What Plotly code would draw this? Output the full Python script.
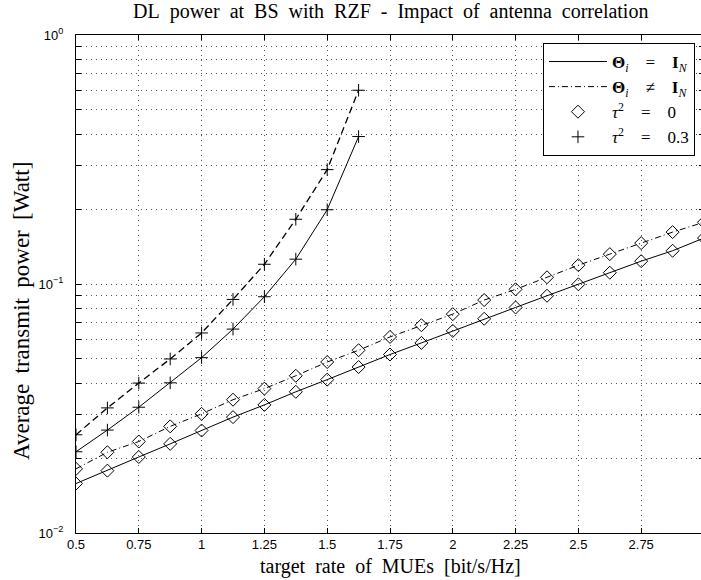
import plotly.graph_objects as go

# ---- data ----
x_plus = [0.5, 0.625, 0.75, 0.875, 1.0, 1.125, 1.25, 1.375, 1.5, 1.625]
p_id_tau03 = [0.0212, 0.0259, 0.0320, 0.0401, 0.0506, 0.0659, 0.0889, 0.1258, 0.1987, 0.391]
p_corr_tau03 = [0.0248, 0.0318, 0.0400, 0.0500, 0.0636, 0.0867, 0.1200, 0.1820, 0.2880, 0.600]

x_diam = [0.5, 0.625, 0.75, 0.875, 1.0, 1.125, 1.25, 1.375, 1.5, 1.625,
          1.75, 1.875, 2.0, 2.125, 2.25, 2.375, 2.5, 2.625, 2.75, 2.875, 3.0]
p_id_tau0 = [0.0158, 0.0178, 0.0202, 0.0228, 0.0258, 0.0292, 0.0327, 0.0369, 0.0413, 0.0464,
             0.0521, 0.0580, 0.0648, 0.0725, 0.0805, 0.0897, 0.0997, 0.1110, 0.1235, 0.1360, 0.1530]
p_corr_tau0 = [0.0181, 0.0211, 0.0233, 0.0268, 0.0301, 0.0343, 0.0380, 0.0428, 0.0486, 0.0542,
               0.0613, 0.0683, 0.0757, 0.0862, 0.0952, 0.1064, 0.1190, 0.1318, 0.1460, 0.1616, 0.1770]

x_ticks = [0.5, 0.75, 1, 1.25, 1.5, 1.75, 2, 2.25, 2.5, 2.75, 3]
x_ticktext = ["0.5", "0.75", "1", "1.25", "1.5", "1.75", "2", "2.25", "2.5", "2.75", "3"]
y_decades = [0.01, 0.1, 1]
y_decade_text = ["10<sup>−2</sup>", "10<sup>−1</sup>", "10<sup>0</sup>"]

title_text = "DL power at BS with RZF - Impact of antenna correlation"
x_title = "target rate of MUEs [bit/s/Hz]"
y_title = "Average transmit power [Watt]"
legend_names = ["<b>Θ</b><sub><i>i</i></sub>\u2003=\u2003<b>I</b><sub><i>N</i></sub>",
                "<b>Θ</b><sub><i>i</i></sub>\u2003≠\u2003<b>I</b><sub><i>N</i></sub>",
                "<i>τ</i><sup>2</sup>\u2003=\u20030",
                "<i>τ</i><sup>2</sup>\u2003=\u20030.3"]


def wide(s, sep):
    return s.replace(" ", sep)


# y tick values: decades plus minor (2..9) positions
y_tickvals = []
y_ticktext = []
for i, d in enumerate(y_decades):
    y_tickvals.append(d)
    y_ticktext.append(y_decade_text[i])
    if d < 1:
        for m in range(2, 10):
            y_tickvals.append(d * m)
            y_ticktext.append("")

fig = go.Figure()
blk = "black"
diam = dict(symbol="diamond-open", size=10, color=blk, line=dict(width=1, color=blk))
plus = dict(symbol="cross-thin-open", size=9, color=blk, line=dict(width=1, color=blk))
dashdot = "6px,3px,1px,3px"

fig.add_trace(go.Scatter(x=x_diam, y=p_id_tau0, mode="lines+markers",
                         line=dict(color=blk, width=1), marker=diam, showlegend=False))
fig.add_trace(go.Scatter(x=x_diam, y=p_corr_tau0, mode="lines+markers",
                         line=dict(color=blk, width=1, dash=dashdot), marker=diam, showlegend=False))
fig.add_trace(go.Scatter(x=x_plus, y=p_id_tau03, mode="lines+markers",
                         line=dict(color=blk, width=1), marker=plus, showlegend=False))
fig.add_trace(go.Scatter(x=x_plus, y=p_corr_tau03, mode="lines+markers",
                         line=dict(color=blk, width=1.3, dash="7px,4px"), marker=plus, showlegend=False))

# legend entries
fig.add_trace(go.Scatter(x=[None], y=[None], mode="lines", name=legend_names[0],
                         line=dict(color=blk, width=1)))
fig.add_trace(go.Scatter(x=[None], y=[None], mode="lines", name=legend_names[1],
                         line=dict(color=blk, width=1, dash=dashdot)))
fig.add_trace(go.Scatter(x=[None], y=[None], mode="markers", name=legend_names[2], marker=diam))
fig.add_trace(go.Scatter(x=[None], y=[None], mode="markers", name=legend_names[3], marker=plus))

tickfont = dict(family="Liberation Sans, Arial, sans-serif", size=13, color="black")
serif = "Liberation Serif, Times New Roman, serif"
grid = dict(showgrid=True, gridcolor="#555", griddash="1px,4px", gridwidth=1)

# plot area spans x in [0.5, 3] over 76..704 px; the page (701 px) crops the far right like the reference
fig.update_layout(
    width=704, height=580,
    margin=dict(l=76, r=0, t=35, b=47, autoexpand=False),
    paper_bgcolor="white", plot_bgcolor="white",
    xaxis=dict(range=[0.5, 3.0], tickvals=x_ticks, ticktext=x_ticktext,
               ticks="inside", ticklen=5, tickcolor=blk, tickfont=tickfont,
               ticklabelstandoff=-1,
               showline=True, linecolor=blk, linewidth=1, mirror="ticks",
               zeroline=False, **grid),
    yaxis=dict(type="log", range=[-2, 0], tickvals=y_tickvals, ticktext=y_ticktext,
               ticks="inside", ticklen=5, tickcolor=blk, tickfont=tickfont,
               ticklabelstandoff=9,
               showline=True, linecolor=blk, linewidth=1, mirror="ticks",
               zeroline=False, **grid),
    legend=dict(x=0.7436, y=0.984, xanchor="left", yanchor="top",
                bgcolor="white", bordercolor=blk, borderwidth=1,
                font=dict(family=serif, size=17, color="black"),
                itemwidth=58, tracegroupgap=0),
    annotations=[
        dict(text=wide(title_text, "\u2002"), xref="paper", yref="paper",
             x=0.5, y=1.0472, xanchor="center", yanchor="middle", showarrow=False,
             font=dict(family=serif, size=20, color="black")),
        dict(text=wide(x_title, "\u2002"), xref="paper", yref="paper",
             x=0.5, y=-0.0663, xanchor="center", yanchor="middle", showarrow=False,
             font=dict(family=serif, size=20, color="black")),
        dict(text=wide(y_title, " \u2009"), xref="paper", yref="paper",
             x=-0.086, y=0.4458, xanchor="center", yanchor="middle", showarrow=False,
             textangle=-90, font=dict(family=serif, size=23, color="black")),
    ],
)

fig.write_html(
    "out.html",
    config={"displayModeBar": False},
    post_script=("document.body.style.margin='0';"
                 "document.body.style.overflow='hidden';"
                 "document.documentElement.style.overflow='hidden';"),
)
